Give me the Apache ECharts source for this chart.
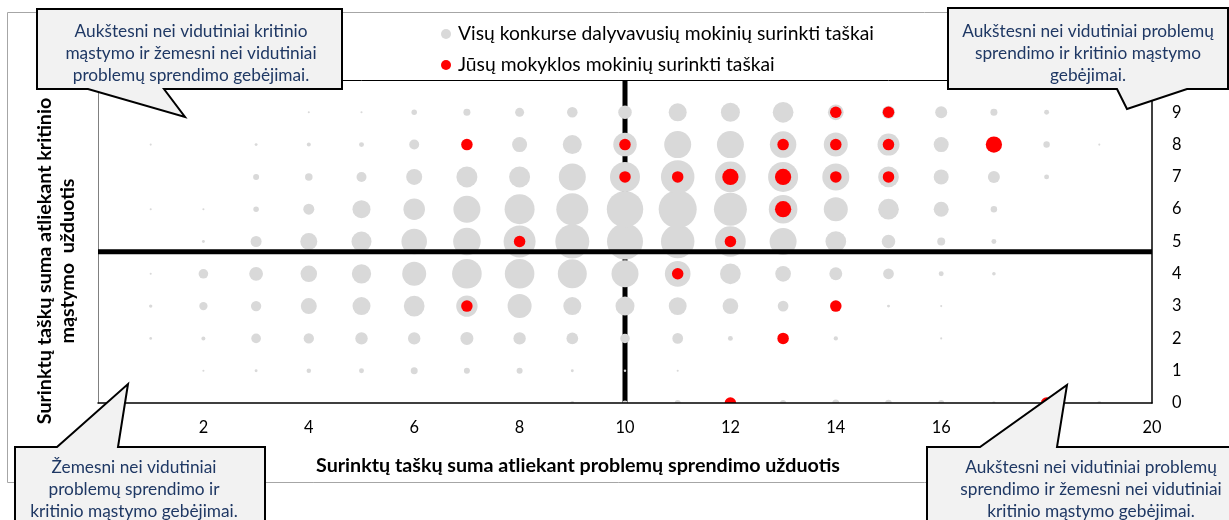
<!DOCTYPE html>
<html>
<head>
<meta charset="utf-8">
<script src="https://cdn.jsdelivr.net/npm/echarts@6/dist/echarts.min.js"></script>
<style>
  html, body { margin: 0; padding: 0; background: #ffffff; }
  #chart { width: 1229px; height: 520px; }
</style>
</head>
<body>
<div id="chart"></div>
<script>
// ---------- DATA ----------
const scoreX = [0,1,2,3,4,5,6,7,8,9,10,11,12,13,14,15,16,17,18,19,20];
const scoreY = [0,1,2,3,4,5,6,7,8,9];
const xTickValues = [2,4,6,8,10,12,14,16,18,20];
const yTickValues = [0,1,2,3,4,5,6,7,8,9];

// Number of all participants at each (problem-solving score x = 0..20) for a given critical-thinking score
const participantsY0 = [0,0,0,0,0,0,0,0,0,11,17,25,25,23,34,29,23,9,11,11,0];
const participantsY1 = [0,0,3,6,14,17,34,25,25,6,4,3,0,0,0,0,0,0,0,0,0];
const participantsY2 = [0,5,11,65,74,107,107,117,107,95,63,80,17,25,13,0,3,0,0,0,0];
const participantsY3 = [0,8,48,74,178,225,298,318,400,225,251,223,171,80,44,6,3,0,0,0,0];
const participantsY4 = [0,3,64,132,189,259,400,608,608,584,506,459,298,171,116,80,17,9,0,0,0];
const participantsY5 = [0,0,6,84,201,278,452,525,711,803,900,779,654,506,298,127,44,17,0,0,0];
const participantsY6 = [0,3,3,21,84,225,321,506,625,711,920,1003,756,568,400,298,156,29,0,0,0];
const participantsY7 = [0,0,0,25,39,69,178,306,306,506,625,779,654,625,506,298,156,100,17,0,0];
const participantsY8 = [0,3,0,6,11,17,69,69,156,251,384,506,506,488,400,336,156,100,29,3,0];
const participantsY9 = [0,0,0,0,3,3,21,34,56,77,127,225,251,298,171,117,100,34,17,0,0];

// Your school's students
const schoolX = [7,10,13,14,15,17,14,15,10,11,12,13,14,15,13,8,12,11,7,14,13,12,18];
const schoolY = [8,8,8,8,8,8,9,9,7,7,7,7,7,7,6,5,5,4,3,3,2,0,0];
const schoolN = [1,1,1,1,1,2,1,1,1,1,2,2,1,1,2,1,1,1,1,1,1,1,1];

// Averages (quadrant dividers)
const avgProblem = 10;
const avgCritical = 4.68;

const seriesNames = ['Visų konkurse dalyvavusių mokinių surinkti taškai', 'Jūsų mokyklos mokinių surinkti taškai'];
const xTitle = 'Surinktų taškų suma atliekant problemų sprendimo užduotis';
const yTitleLines = ['Surinktų taškų suma atliekant kritinio', 'mąstymo  užduotis'];
const calloutTexts = [
  'Aukštesni nei vidutiniai kritinio\nmąstymo ir žemesni nei vidutiniai\nproblemų sprendimo gebėjimai.',
  'Aukštesni nei vidutiniai problemų\nsprendimo ir kritinio mąstymo\ngebėjimai.',
  'Žemesni nei vidutiniai\nproblemų sprendimo ir\nkritinio mąstymo gebėjimai.',
  'Aukštesni nei vidutiniai problemų\nsprendimo ir žemesni nei vidutiniai\nkritinio mąstymo gebėjimai.'
];

// ---------- BUILD ----------
const FAMILY = 'Lato';
const mctx = document.createElement('canvas').getContext('2d');
function fit(text, weight, target) {
  mctx.font = weight + ' 100px ' + FAMILY;
  return 100 * target / mctx.measureText(text).width;
}
const legendSize = fit('Jūsų mokyklos mokinių surinkti taškai', 'normal', 317);
const calloutSize = fit('Aukštesni nei vidutiniai kritinio', 'normal', 233);
const titleSize = fit(xTitle, 'bold', 524);
const tickSize = fit('20', 'normal', 19);

const participantRows = [participantsY0, participantsY1, participantsY2, participantsY3, participantsY4,
  participantsY5, participantsY6, participantsY7, participantsY8, participantsY9];
const allData = [];
participantRows.forEach((row, yi) => {
  row.forEach((n, xi) => { if (n > 0) allData.push([scoreX[xi], scoreY[yi], n]); });
});
const schoolData = schoolX.map((x, i) => [x, schoolY[i], schoolN[i]]);

const xMin = 0, xMax = 20, yMin = 0, yMax = 10;

const GRID = { left: 98, right: 77, top: 80, bottom: 117 };
const W = 1229, H = 520;

const chart = echarts.init(document.getElementById('chart'), null, { renderer: 'canvas' });

const navy = '#1F3864';
function callout(points, cx, cy, text) {
  return [
    { type: 'polygon', z: 100, silent: true,
      shape: { points: points },
      style: { fill: '#F2F2F2', stroke: '#000000', lineWidth: 2, lineJoin: 'miter' } },
    { type: 'text', z: 101, silent: true, x: cx, y: cy,
      style: { text: text, fill: navy, font: calloutSize.toFixed(2) + 'px ' + FAMILY,
        textAlign: 'center', textVerticalAlign: 'middle', lineHeight: 21.7 } }
  ];
}

const plotBottom = H - GRID.bottom;
const graphics = [].concat(
  [{ type: 'rect', z: 0, silent: true, shape: { x: 7.5, y: 12.5, width: 1300, height: 470 },
     style: { fill: 'none', stroke: '#A6A6A6', lineWidth: 1 } },
   // mask: bubbles are clipped at the bottom of the plot area (as in the original)
   { type: 'rect', z: 6, silent: true,
     shape: { x: GRID.left + 1, y: plotBottom, width: W - GRID.left - GRID.right - 2, height: 14 },
     style: { fill: '#ffffff' } }],
  callout([[37,9],[342,9],[342,89],[164,89],[185,117],[88,89],[37,89]], 191, 53.5, calloutTexts[0]),
  callout([[948,8],[1228,8],[1228,89],[1187,89],[1127,109],[1117,89],[948,89]], 1088, 53.5, calloutTexts[1]),
  callout([[15,447],[57,447],[128,384],[118,447],[265,447],[265,540],[15,540]], 134, 489.5, calloutTexts[2]),
  callout([[927,447],[980,447],[1067,385],[1057,447],[1240,447],[1240,540],[927,540]], 1091, 489.5, calloutTexts[3]),
  [
    { type: 'text', z: 50, silent: true, x: 578, y: 466,
      style: { text: xTitle, fill: '#000', font: 'bold ' + titleSize.toFixed(2) + 'px ' + FAMILY,
        textAlign: 'center', textVerticalAlign: 'middle' } },
    { type: 'text', z: 50, silent: true, x: 45, y: 261, rotation: Math.PI / 2,
      style: { text: yTitleLines[0], fill: '#000', font: 'bold ' + titleSize.toFixed(2) + 'px ' + FAMILY,
        textAlign: 'center', textVerticalAlign: 'middle' } },
    { type: 'text', z: 50, silent: true, x: 68, y: 261, rotation: Math.PI / 2,
      style: { text: yTitleLines[1], fill: '#000', font: 'bold ' + titleSize.toFixed(2) + 'px ' + FAMILY,
        textAlign: 'center', textVerticalAlign: 'middle' } }
  ]
);

const option = {
  animation: false,
  backgroundColor: '#ffffff',
  textStyle: { fontFamily: FAMILY },
  grid: { left: GRID.left, right: GRID.right, top: GRID.top, bottom: GRID.bottom, containLabel: false },
  legend: {
    data: seriesNames,
    orient: 'vertical', left: 436, top: 18,
    icon: 'circle', itemWidth: 10, itemHeight: 10, itemGap: 9,
    selectedMode: false,
    textStyle: { fontSize: legendSize, color: '#000', fontFamily: FAMILY, lineHeight: 22, padding: [0,0,0,2] }
  },
  xAxis: [
    { type: 'value', min: xMin, max: xMax, interval: 2, position: 'bottom', z: 10,
      axisLine: { show: true, onZero: false, lineStyle: { color: '#000', width: 1.5 } },
      axisTick: { show: false }, splitLine: { show: false },
      axisLabel: { fontSize: tickSize, color: '#000', fontFamily: FAMILY, margin: 17,
        formatter: v => (xTickValues.indexOf(v) >= 0 ? String(v) : '') } },
    { type: 'value', min: xMin, max: xMax, position: 'top',
      axisLine: { show: true, onZero: false, lineStyle: { color: '#000', width: 1 } },
      axisTick: { show: false }, splitLine: { show: false }, axisLabel: { show: false } }
  ],
  yAxis: [
    { type: 'value', min: yMin, max: yMax, interval: 1, position: 'right', z: 10,
      axisLine: { show: true, onZero: false, lineStyle: { color: '#000', width: 1.5 } },
      axisTick: { show: false }, splitLine: { show: false },
      axisLabel: { fontSize: tickSize, color: '#000', fontFamily: FAMILY, margin: 20,
        formatter: v => (yTickValues.indexOf(v) >= 0 ? String(v) : '') } },
    { type: 'value', min: yMin, max: yMax, position: 'left',
      axisLine: { show: true, onZero: false, lineStyle: { color: '#808080', width: 1 } },
      axisTick: { show: false }, splitLine: { show: false }, axisLabel: { show: false } }
  ],
  series: [
    { name: 'vline', type: 'line', z: 1, silent: true, showSymbol: false, symbol: 'none',
      xAxisIndex: 0, yAxisIndex: 0,
      data: [[avgProblem, yMin], [avgProblem, yMax]],
      lineStyle: { color: '#000', width: 5 } },
    { name: seriesNames[0], type: 'scatter', z: 2, silent: true,
      xAxisIndex: 0, yAxisIndex: 0,
      data: allData,
      symbolSize: v => 1.2 * Math.sqrt(v[2]),
      itemStyle: { color: '#D9D9D9', opacity: 1 } },
    { name: seriesNames[1], type: 'scatter', z: 3, silent: true,
      xAxisIndex: 0, yAxisIndex: 0,
      data: schoolData,
      symbolSize: v => 11.5 * Math.sqrt(v[2]),
      itemStyle: { color: '#FF0000', opacity: 1 } },
    { name: 'hline', type: 'line', z: 4, silent: true, showSymbol: false, symbol: 'none',
      xAxisIndex: 0, yAxisIndex: 0,
      data: [[xMin, avgCritical], [xMax, avgCritical]],
      lineStyle: { color: '#000', width: 5 } }
  ],
  graphic: graphics
};

chart.setOption(option);
</script>
</body>
</html>
